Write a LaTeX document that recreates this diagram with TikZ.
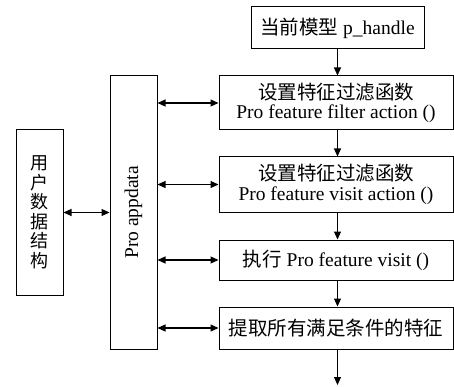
\documentclass[tikz,border=0pt]{standalone}
\usepackage{fontspec}
\setmainfont{Liberation Serif}
\newfontfamily\cjk{Noto Sans CJK SC}
\usetikzlibrary{arrows.meta}
\begin{document}
\begin{tikzpicture}[x=1pt,y=-1pt,
  box/.style={draw,line width=1pt,inner sep=1pt,align=center,font=\fontsize{19.5}{19.5}\selectfont},
  arr/.style={line width=1.1pt,-{Triangle[length=8pt,width=7pt]}},
  dbl/.style={line width=1.1pt,{Triangle[length=8pt,width=7pt]}-{Triangle[length=8pt,width=7pt]}}]
\useasboundingbox (0,0) rectangle (454,387);
\node[box,minimum width=173pt,minimum height=42pt] (top) at (337.5,28) {{\cjk 当前模型} p\_handle};
\node[box,minimum width=234pt,minimum height=54pt] (b1) at (336,103) {{\cjk 设置特征过滤函数}\\Pro feature filter action ()};
\node[box,minimum width=234pt,minimum height=55pt] (b2) at (336,184.5) {{\cjk 设置特征过滤函数}\\Pro feature visit action ()};
\node[box,minimum width=234pt,minimum height=40pt] (b3) at (336,260) {{\cjk 执行} Pro feature visit ()};
\node[box,minimum width=234pt,minimum height=42pt] (b4) at (336,328) {\cjk 提取所有满足条件的特征};
\node[box,minimum width=47pt,minimum height=273pt] (pro) at (133.5,212.5) {};
\node[rotate=90,font=\fontsize{19.5}{21}\selectfont] (protext) at (pro.center) {Pro appdata};
\node[box,minimum width=47pt,minimum height=165pt,font=\fontsize{18}{19.5}\selectfont\cjk] (user) at (39.5,212.5) {用\\户\\数\\据\\结\\构};
\coordinate (end) at (337.5,385);
\draw[arr] (top.south) -- (top.south |- b1.north);
\draw[arr] (top.south |- b1.south) -- (top.south |- b2.north);
\draw[arr] (top.south |- b2.south) -- (top.south |- b3.north);
\draw[arr] (top.south |- b3.south) -- (top.south |- b4.north);
\draw[arr] (top.south |- b4.south) -- (end);
\draw[dbl] (pro.east |- b1) -- (b1.west);
\draw[dbl] (pro.east |- b2) -- (b2.west);
\draw[dbl] (pro.east |- b3) -- (b3.west);
\draw[dbl] (pro.east |- b4) -- (b4.west);
\draw[dbl] (user.east) -- (pro.west);
\end{tikzpicture}
\end{document}
